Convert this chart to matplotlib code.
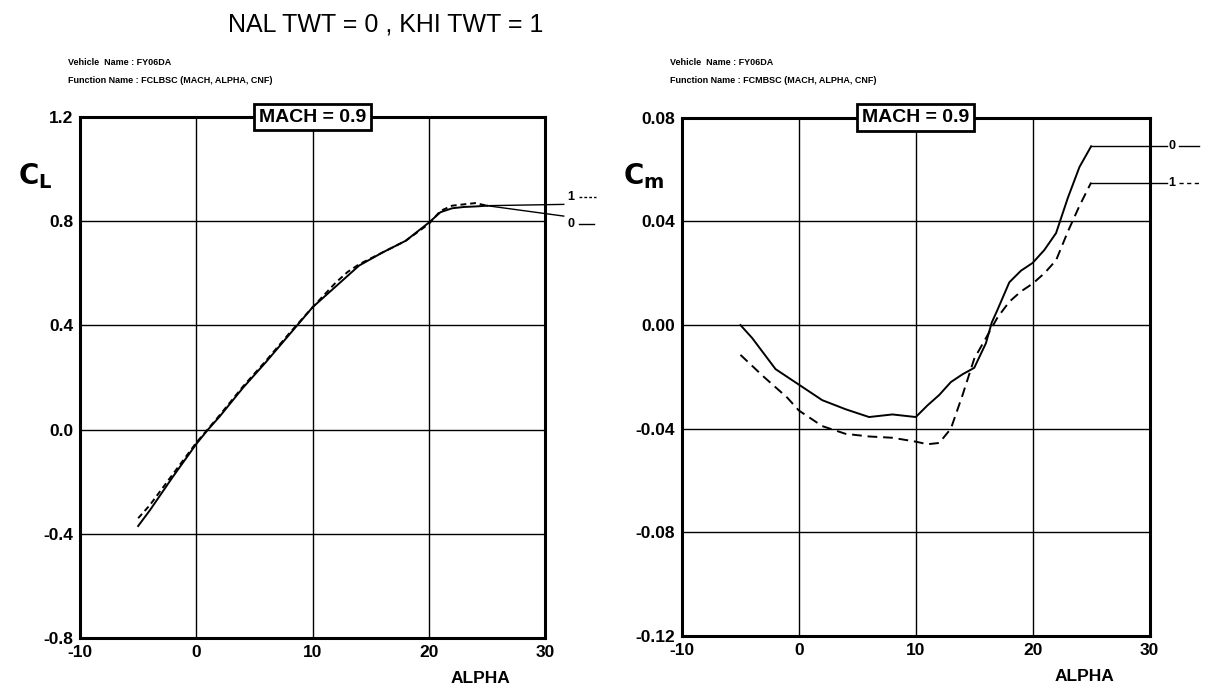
import matplotlib
matplotlib.use("Agg")
import matplotlib.pyplot as plt

plt.rcParams['font.family'] = ['Liberation Sans', 'DejaVu Sans']
plt.rcParams['axes.unicode_minus'] = False

# --- data ---
cl_alpha_0 = [-5, -4, -2, 0, 1, 2, 4, 6, 8, 10, 12, 14, 16, 18, 20, 21, 22, 23, 24, 25]
cl_0 = [-0.37, -0.31, -0.18, -0.055, 0.0, 0.05, 0.16, 0.26, 0.365, 0.47, 0.55, 0.63,
        0.68, 0.725, 0.795, 0.835, 0.85, 0.855, 0.857, 0.86]
cl_alpha_1 = [-5, -4, -2, 0, 2, 4, 6, 8, 10, 12, 13, 14, 16, 18, 20, 21, 22, 23, 24, 25]
cl_1 = [-0.34, -0.29, -0.17, -0.05, 0.055, 0.165, 0.265, 0.37, 0.47, 0.565, 0.605, 0.635,
        0.68, 0.725, 0.79, 0.84, 0.86, 0.865, 0.87, 0.86]

cm_alpha_0 = [-5, -4, -2, 0, 2, 4, 6, 8, 10, 11, 12, 13, 14, 15, 16, 16.5, 17, 18, 19,
              20, 21, 22, 23, 24, 25]
cm_0 = [0.0, -0.005, -0.017, -0.023, -0.029, -0.0325, -0.0355, -0.0345, -0.0355, -0.031,
        -0.027, -0.022, -0.019, -0.0165, -0.007, 0.001, 0.006, 0.0165, 0.021, 0.024,
        0.029, 0.0355, 0.049, 0.061, 0.069]
cm_alpha_1 = [-5, -3, -1, 0, 2, 4, 6, 8, 10, 11, 12, 13, 14, 15, 16, 17, 18, 19, 20,
              21, 22, 23, 24, 25]
cm_1 = [-0.0115, -0.020, -0.028, -0.033, -0.039, -0.042, -0.043, -0.0435, -0.045, -0.046,
        -0.0455, -0.040, -0.027, -0.013, -0.005, 0.003, 0.009, 0.013, 0.016, 0.020, 0.025,
        0.036, 0.046, 0.055]

x_ticks = [-10, 0, 10, 20, 30]
cl_ticks = [-0.8, -0.4, 0.0, 0.4, 0.8, 1.2]
cm_ticks = [-0.12, -0.08, -0.04, 0.00, 0.04, 0.08]

fig = plt.figure(figsize=(12.05, 6.89), dpi=100)
ax1 = fig.add_axes([0.0664, 0.074, 0.386, 0.756])
ax2 = fig.add_axes([0.566, 0.077, 0.388, 0.752])

fig.text(0.32, 0.965, "NAL TWT = 0 , KHI TWT = 1", ha='center', va='center', fontsize=18)


def setup(ax, yticks, fmt, func_name, ylab, ylab_x):
    ax.set_xlim(-10, 30)
    ax.set_ylim(yticks[0], yticks[-1])
    ax.set_xticks(x_ticks)
    ax.set_xticklabels([str(v) for v in x_ticks])
    ax.set_yticks(yticks)
    ax.set_yticklabels([fmt % v for v in yticks])
    ax.grid(True, color='black', lw=1.0)
    ax.tick_params(length=0, labelsize=12.5, pad=5)
    for lab in ax.get_xticklabels() + ax.get_yticklabels():
        lab.set_fontweight('bold')
    for sp in ax.spines.values():
        sp.set_linewidth(2.2)
    ax.set_xlabel("ALPHA", fontsize=12.5, fontweight='bold', x=0.86, labelpad=8)
    pos = ax.get_position()
    fig.text(pos.x0 - 0.01, 0.905, "Vehicle  Name : FY06DA", fontsize=6.5,
             fontweight='bold')
    fig.text(pos.x0 - 0.01, 0.88, "Function Name : %s (MACH, ALPHA, CNF)" % func_name,
             fontsize=6.5, fontweight='bold')
    fig.text(ylab_x, 0.745, ylab, fontsize=20, fontweight='bold', va='center')
    ax.text(0.5, 1.0, "MACH = 0.9", transform=ax.transAxes, ha='center', va='center',
            fontsize=14, fontweight='bold', zorder=5,
            bbox=dict(boxstyle='square,pad=0.25', fc='white', ec='black', lw=2))


setup(ax1, cl_ticks, "%.1f", "FCLBSC", r"$\mathbf{C_L}$", 0.015)
setup(ax2, cm_ticks, "%.2f", "FCMBSC", r"$\mathbf{C_m}$", 0.517)

ax1.plot(cl_alpha_0, cl_0, color='black', lw=1.4)
ax1.plot(cl_alpha_1, cl_1, color='black', lw=1.4, ls=(0, (3, 2)))
ax2.plot(cm_alpha_0, cm_0, color='black', lw=1.4)
ax2.plot(cm_alpha_1, cm_1, color='black', lw=1.4, ls=(0, (5, 3)))

# leader lines and end labels
ax1.plot([cl_alpha_0[-1], 31.6], [cl_0[-1], 0.865], color='black', lw=1.0, clip_on=False)
ax1.plot([cl_alpha_0[-1], 31.6], [cl_0[-1], 0.82], color='black', lw=1.0, clip_on=False)
ax1.text(31.9, 0.895, "1", fontsize=9, fontweight='bold', va='center', clip_on=False)
ax1.plot([32.9, 34.4], [0.895, 0.895], color='black', lw=1.0, ls=(0, (2, 1.5)),
         clip_on=False)
ax1.text(31.9, 0.79, "0", fontsize=9, fontweight='bold', va='center', clip_on=False)
ax1.plot([32.9, 34.2], [0.79, 0.79], color='black', lw=1.0, clip_on=False)

ax2.plot([cm_alpha_0[-1], 31.5], [cm_0[-1], cm_0[-1]], color='black', lw=1.0, clip_on=False)
ax2.plot([cm_alpha_1[-1], 31.5], [cm_1[-1], cm_1[-1]], color='black', lw=1.0, clip_on=False)
ax2.text(31.6, cm_0[-1], "0", fontsize=9, fontweight='bold', va='center', clip_on=False)
ax2.plot([32.5, 34.2], [cm_0[-1], cm_0[-1]], color='black', lw=1.0, clip_on=False)
ax2.text(31.6, cm_1[-1], "1", fontsize=9, fontweight='bold', va='center', clip_on=False)
ax2.plot([32.5, 34.2], [cm_1[-1], cm_1[-1]], color='black', lw=1.0, ls=(0, (3, 2.5)),
         clip_on=False)

fig.savefig("out.png", dpi=100)
